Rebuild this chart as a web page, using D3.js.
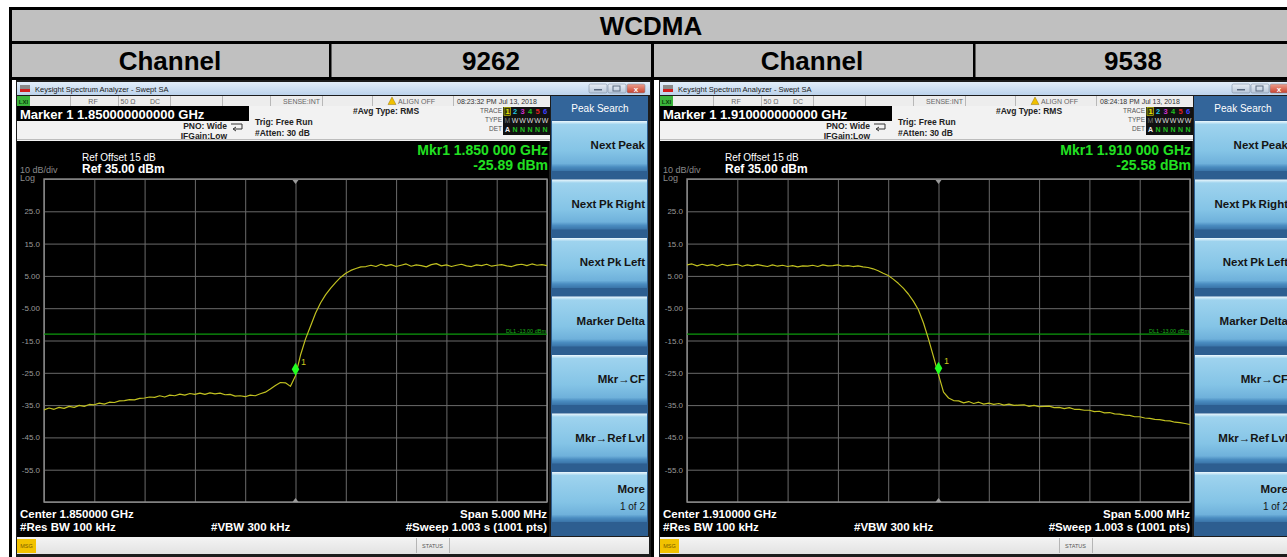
<!DOCTYPE html>
<html><head><meta charset="utf-8">
<script src="https://cdn.jsdelivr.net/npm/d3@7"></script>
<style>
body{margin:0;background:#fff;}
svg{display:block;font-family:"Liberation Sans",Arial,Helvetica,sans-serif;}
</style>
</head><body>
<svg id="c" width="1287" height="557"></svg>
<script>
// ---------------- data ----------------
const tableTitle = "WCDMA";
const channelLabel = "Channel";
const channels = ["9262", "9538"];
const centerFreqGHz = [1.85, 1.91];
const spanGHz = 0.005;
const markerDbm = [-25.89, -25.58];
const timestamps = ["08:23:32 PM Jul 13, 2018", "08:24:18 PM Jul 13, 2018"];
const refLevelDbm = 35;
const dbPerDiv = 10;
const displayLineDbm = -13;
const yTickValues = [25, 15, 5, -5, -15, -25, -35, -45, -55];
const yTickLabels = ["25.0", "15.0", "5.00", "-5.00", "-15.0", "-25.0", "-35.0", "-45.0", "-55.0"];
const menuItems = ["Next Peak", "Next Pk Right", "Next Pk Left", "Marker Delta", "Mkr\u2192CF", "Mkr\u2192Ref Lvl", "More"];
const traceTypeRow = ["M", "W", "W", "W", "W", "W"];
const detRow = ["A", "N", "N", "N", "N", "N"];

// trace values (dBm), 101 sweep points across the 5 MHz span
const trace9262 = [
 -36.5,-35.9,-36.3,-35.7,-36.0,-35.4,-35.7,-35.1,-35.4,-34.8,
 -34.9,-34.4,-34.7,-34.1,-34.2,-33.7,-33.6,-33.3,-33.4,-32.9,
 -32.8,-32.5,-32.6,-32.1,-32.5,-31.9,-32.1,-31.6,-31.9,-31.4,
 -31.7,-31.3,-31.7,-31.2,-31.5,-31.3,-31.8,-31.7,-32.2,-32.1,
 -32.4,-31.9,-32.1,-31.5,-31.0,-30.0,-28.9,-28.0,-28.1,-29.2,
 -25.89,-19.5,-14.5,-10.5,-6.5,-3.3,-0.8,1.2,3.0,4.6,
 5.8,6.7,7.3,7.8,7.9,8.3,7.9,8.6,8.1,8.5,
 7.9,8.3,8.7,8.0,8.4,8.2,7.8,8.5,8.8,8.1,
 8.4,7.9,8.3,8.6,8.1,7.9,8.4,8.2,8.6,8.0,
 8.3,8.5,8.1,7.9,8.4,8.6,8.2,8.7,8.3,8.5,8.2
];
const trace9538 = [
 8.4,8.7,8.1,8.6,8.2,8.5,8.0,8.6,8.2,8.4,
 8.6,8.0,8.4,8.1,8.5,8.2,7.9,8.4,8.0,8.3,
 7.9,8.2,7.8,8.1,8.0,8.3,7.9,8.4,8.1,8.2,
 8.4,8.0,8.2,7.9,8.1,7.8,7.6,7.2,6.6,5.8,
 5.1,4.0,2.7,1.2,-0.6,-2.8,-5.5,-9.5,-14.5,-20.0,
 -25.58,-31.0,-32.8,-33.6,-33.7,-34.3,-33.9,-34.5,-34.1,-34.7,
 -34.4,-34.8,-34.5,-35.0,-34.7,-35.1,-35.0,-34.9,-35.4,-35.1,
 -35.5,-35.4,-35.3,-35.8,-35.7,-36.1,-35.8,-36.3,-36.3,-36.6,
 -36.6,-37.0,-36.9,-37.4,-37.3,-37.7,-37.8,-38.1,-38.2,-38.6,
 -38.6,-39.0,-39.1,-39.4,-39.5,-39.8,-39.9,-40.3,-40.4,-40.7,-41.0
];
const traces = [trace9262, trace9538];

// ---------------- drawing ----------------
const svg = d3.select("#c");
const defs = svg.append("defs");
function grad(id, stops) {
  const lg = defs.append("linearGradient").attr("id", id).attr("x1", 0).attr("y1", 0).attr("x2", 0).attr("y2", 1);
  stops.forEach(s => lg.append("stop").attr("offset", s[0]).attr("stop-color", s[1]));
}
grad("titleG", [["0%", "#e3eefa"], ["100%", "#bcd3ec"]]);
grad("btnG", [["0%", "#eef8fd"], ["7%", "#9ed3ee"], ["60%", "#84c4e6"], ["85%", "#6fb1db"], ["92%", "#4a8cc0"], ["100%", "#3a74a8"]]);
grad("winG", [["0%", "#e9eff6"], ["100%", "#b6c6d9"]]);
grad("redG", [["0%", "#eca08f"], ["100%", "#c8412d"]]);
grad("statusG", [["0%", "#f4f4f4"], ["100%", "#e2e2e2"]]);
defs.append("clipPath").attr("id", "plotClip").append("rect")
  .attr("x", 44).attr("y", 178).attr("width", 504).attr("height", 325);

// outer table
const gray = "#c0c0c0";
svg.append("rect").attr("x", 10).attr("y", 9).attr("width", 1300).attr("height", 33).attr("fill", gray);
svg.append("rect").attr("x", 10).attr("y", 43).attr("width", 1300).attr("height", 35).attr("fill", gray);
[[7, 3], [41, 3], [77, 3]].forEach(([yy, h]) => {
  svg.append("rect").attr("x", 9).attr("y", yy).attr("width", 1300).attr("height", h).attr("fill", "#000");
});
svg.append("rect").attr("x", 9).attr("y", 7).attr("width", 3).attr("height", 550).attr("fill", "#000");
[329, 973].forEach(xx => svg.append("rect").attr("x", xx).attr("y", 42).attr("width", 2.5).attr("height", 36).attr("fill", "#000"));
svg.append("rect").attr("x", 651).attr("y", 42).attr("width", 3).attr("height", 515).attr("fill", "#000");

const hdr = svg.append("g").attr("font-weight", "bold").attr("font-size", 26).attr("text-anchor", "middle").attr("fill", "#000");
hdr.append("text").attr("x", 651).attr("y", 35).text(tableTitle);
hdr.append("text").attr("x", 170).attr("y", 70).text(channelLabel);
hdr.append("text").attr("x", 491).attr("y", 70).text(channels[0]);
hdr.append("text").attr("x", 812).attr("y", 70).text(channelLabel);
hdr.append("text").attr("x", 1133).attr("y", 70).text(channels[1]);

function drawScreen(idx, ox) {
  const g = svg.append("g").attr("transform", `translate(${ox},0)`);
  const cf = centerFreqGHz[idx];
  const x = d3.scaleLinear().domain([cf - spanGHz / 2, cf + spanGHz / 2]).range([44, 547]);
  const y = d3.scaleLinear().domain([refLevelDbm - 10 * dbPerDiv, refLevelDbm]).range([502, 179]);

  // frame
  g.append("rect").attr("x", 16).attr("y", 80).attr("width", 635).attr("height", 477).attr("fill", "#1c1c1c");
  // title bar
  g.append("rect").attr("x", 17).attr("y", 82).attr("width", 633).attr("height", 13).attr("fill", "url(#titleG)");
  g.append("rect").attr("x", 20).attr("y", 85).attr("width", 10).attr("height", 4).attr("fill", "#8a8a8a");
  g.append("rect").attr("x", 20).attr("y", 89).attr("width", 10).attr("height", 3).attr("fill", "#d02020");
  g.append("text").attr("x", 35).attr("y", 91.5).attr("font-size", 7.5).attr("fill", "#1a1a1a")
    .text("Keysight Spectrum Analyzer - Swept SA");
  [[589, "winG"], [608, "winG"], [627, "redG"]].forEach(([bx, f]) => {
    g.append("rect").attr("x", bx).attr("y", 84).attr("width", 18).attr("height", 9).attr("rx", 1.5)
      .attr("fill", `url(#${f})`).attr("stroke", "#7d8ea3").attr("stroke-width", 0.6);
  });
  g.append("rect").attr("x", 594).attr("y", 89).attr("width", 8).attr("height", 1.5).attr("fill", "#5a6a80");
  g.append("rect").attr("x", 613).attr("y", 86).attr("width", 7).attr("height", 5).attr("fill", "none").attr("stroke", "#5a6a80").attr("stroke-width", 1);
  g.append("text").attr("x", 636).attr("y", 91.5).attr("font-size", 8).attr("font-weight", "bold").attr("fill", "#fff").attr("text-anchor", "middle").text("x");

  // status strip
  g.append("rect").attr("x", 17).attr("y", 96).attr("width", 533).attr("height", 10).attr("fill", "#ededed");
  g.append("rect").attr("x", 17).attr("y", 96).attr("width", 13).attr("height", 10).attr("fill", "#3cb43c");
  g.append("text").attr("x", 23.5).attr("y", 104).attr("font-size", 6).attr("text-anchor", "middle").attr("fill", "#0a3a0a").attr("font-weight", "bold").text("LXI");
  [70, 118, 170, 222, 270, 322, 372, 453].forEach(sx => g.append("rect").attr("x", sx).attr("y", 96).attr("width", 1).attr("height", 10).attr("fill", "#b8b8b8"));
  const st = g.append("g").attr("font-size", 7).attr("fill", "#666");
  st.append("text").attr("x", 93).attr("y", 104).attr("text-anchor", "middle").text("RF");
  st.append("text").attr("x", 128).attr("y", 104).attr("text-anchor", "middle").text("50 \u03A9");
  st.append("text").attr("x", 155).attr("y", 104).attr("text-anchor", "middle").text("DC");
  st.append("text").attr("x", 320).attr("y", 104).attr("text-anchor", "end").text("SENSE:INT");
  g.append("path").attr("d", "M388,104.5 L392,97 L396,104.5 Z").attr("fill", "#f0c000").attr("stroke", "#806000").attr("stroke-width", 0.4);
  st.append("text").attr("x", 398).attr("y", 104).text("ALIGN OFF");
  st.append("text").attr("x", 457).attr("y", 104).attr("fill", "#333").text(timestamps[idx]);

  // marker header
  g.append("rect").attr("x", 17).attr("y", 106).attr("width", 533).attr("height", 35).attr("fill", "#f2f2f2");
  g.append("rect").attr("x", 17).attr("y", 139).attr("width", 533).attr("height", 1).attr("fill", "#bdbdbd");
  g.append("rect").attr("x", 17).attr("y", 106).attr("width", 232).attr("height", 15).attr("fill", "#000");
  g.append("text").attr("x", 20).attr("y", 118.5).attr("font-size", 13).attr("font-weight", "bold").attr("fill", "#fff")
    .text(`Marker 1 ${cf.toFixed(12)} GHz`);
  const hb = g.append("g").attr("font-size", 8.5).attr("font-weight", "bold").attr("fill", "#222");
  hb.append("text").attr("x", 227).attr("y", 129).attr("text-anchor", "end").text("PNO: Wide");
  hb.append("text").attr("x", 227).attr("y", 138.5).attr("text-anchor", "end").text("IFGain:Low");
  hb.append("text").attr("x", 255).attr("y", 125).text("Trig: Free Run");
  hb.append("text").attr("x", 255).attr("y", 136).text("#Atten: 30 dB");
  hb.append("text").attr("x", 353).attr("y", 114).text("#Avg Type: RMS");
  g.append("path").attr("d", "M231,124 h11 v5 h-8 M236,127 l-3,2 l3,2").attr("fill", "none").attr("stroke", "#333").attr("stroke-width", 1);
  const tl = g.append("g").attr("font-size", 6.5).attr("fill", "#555").attr("text-anchor", "end");
  tl.append("text").attr("x", 502).attr("y", 113).text("TRACE");
  tl.append("text").attr("x", 502).attr("y", 122).text("TYPE");
  tl.append("text").attr("x", 502).attr("y", 131).text("DET");
  g.append("rect").attr("x", 503).attr("y", 107).attr("width", 47).attr("height", 28).attr("fill", "#111");
  g.append("rect").attr("x", 504).attr("y", 107.5).attr("width", 6.5).attr("height", 8).attr("fill", "#3a3a10").attr("stroke", "#d8d800").attr("stroke-width", 0.6);
  const tc = ["#e8e800", "#20c8e0", "#d030d0", "#20c020", "#e02020", "#4040ff"];
  tc.forEach((c, i) => g.append("text").attr("x", 507.5 + i * 7.5).attr("y", 114).attr("font-size", 7.5).attr("font-weight", "bold")
    .attr("text-anchor", "middle").attr("fill", c).text(String(i + 1)));
  traceTypeRow.forEach((t, i) => g.append("text").attr("x", 507.5 + i * 7.5).attr("y", 123).attr("font-size", 7)
    .attr("text-anchor", "middle").attr("fill", i === 0 ? "#777" : "#ddd").text(t));
  detRow.forEach((t, i) => g.append("text").attr("x", 507.5 + i * 7.5).attr("y", 132).attr("font-size", 7).attr("font-weight", "bold")
    .attr("text-anchor", "middle").attr("fill", i === 0 ? "#eee" : "#20c020").text(t));

  // plot area
  g.append("rect").attr("x", 17).attr("y", 141).attr("width", 532).attr("height", 396).attr("fill", "#000");
  g.append("text").attr("x", 82).attr("y", 161).attr("font-size", 10).attr("fill", "#fff").text("Ref Offset 15 dB");
  g.append("text").attr("x", 82).attr("y", 173).attr("font-size", 12).attr("font-weight", "bold").attr("fill", "#fff")
    .text(`Ref ${refLevelDbm.toFixed(2)} dBm`);
  g.append("text").attr("x", 20).attr("y", 173).attr("font-size", 9).attr("fill", "#8a8a8a").text(`${dbPerDiv} dB/div`);
  g.append("text").attr("x", 20).attr("y", 180.5).attr("font-size", 9).attr("fill", "#8a8a8a").text("Log");
  const mk = g.append("g").attr("font-size", 14).attr("font-weight", "bold").attr("fill", "#22e022").attr("text-anchor", "end");
  mk.append("text").attr("x", 548).attr("y", 155).text(`Mkr1 ${cf.toFixed(3)} 000 GHz`);
  mk.append("text").attr("x", 548).attr("y", 170).text(`${markerDbm[idx].toFixed(2)} dBm`);

  // graticule via axes
  const gridY = d3.range(0, 11).map(k => refLevelDbm - k * dbPerDiv);
  const gridX = d3.range(0, 11).map(k => cf - spanGHz / 2 + k * spanGHz / 10);
  const gy = g.append("g").attr("transform", "translate(44,0)")
    .call(d3.axisLeft(y).tickValues(gridY).tickSize(-503).tickFormat(""));
  gy.select(".domain").remove();
  gy.selectAll("line").attr("stroke", "#6a6a6a").attr("stroke-width", 1);
  const gx = g.append("g").attr("transform", "translate(0,502)")
    .call(d3.axisBottom(x).tickValues(gridX).tickSize(-323).tickFormat(""));
  gx.select(".domain").remove();
  gx.selectAll("line").attr("stroke", "#6a6a6a").attr("stroke-width", 1);
  g.append("rect").attr("x", 44).attr("y", 179).attr("width", 503).attr("height", 323)
    .attr("fill", "none").attr("stroke", "#8c8c8c").attr("stroke-width", 1.4);
  const ya = g.append("g").attr("transform", "translate(44,0)")
    .call(d3.axisLeft(y).tickValues(yTickValues).tickFormat((d, i) => yTickLabels[i]).tickSize(0).tickPadding(4));
  ya.select(".domain").remove();
  ya.selectAll("text").attr("font-size", 8).attr("fill", "#9a9a9a").attr("font-family", "Liberation Sans, Arial, sans-serif");

  // center markers (small triangles)
  const xc = x(cf);
  g.append("path").attr("d", `M${xc - 3},180 L${xc + 3},180 L${xc},184 Z`).attr("fill", "#9a9a9a");
  g.append("path").attr("d", `M${xc - 3},502 L${xc + 3},502 L${xc},498 Z`).attr("fill", "#9a9a9a");

  // display line
  g.append("line").attr("x1", 44).attr("x2", 547).attr("y1", y(displayLineDbm)).attr("y2", y(displayLineDbm))
    .attr("stroke", "#0c9a0c").attr("stroke-width", 1.3);
  g.append("text").attr("x", 546).attr("y", y(displayLineDbm) - 1.5).attr("font-size", 5.5).attr("fill", "#1cb01c")
    .attr("text-anchor", "end").text(`DL1 ${displayLineDbm.toFixed(2)} dBm`);

  // trace
  const data = traces[idx];
  const freqs = data.map((_, i) => cf - spanGHz / 2 + i * spanGHz / (data.length - 1));
  const line = d3.line().x((d, i) => x(freqs[i])).y(d => y(d));
  g.append("path").attr("clip-path", "url(#plotClip)").datum(data).attr("d", line)
    .attr("fill", "none").attr("stroke", "#c0c020").attr("stroke-width", 1.2).attr("stroke-linejoin", "round");

  // marker diamond
  const mx = x(cf), my = y(markerDbm[idx]);
  g.append("path").attr("d", `M${mx},${my} L${mx + 3.8},${my - 6.5} L${mx},${my - 13} L${mx - 3.8},${my - 6.5} Z`).attr("fill", "#22ff22");
  g.append("text").attr("x", mx + 5.5).attr("y", my - 11).attr("font-size", 9).attr("fill", "#c8c81c").text("1");

  // bottom annotations
  const bt = g.append("g").attr("font-size", 11.5).attr("font-weight", "bold").attr("fill", "#fff");
  bt.append("text").attr("x", 20).attr("y", 518).text(`Center ${cf.toFixed(6)} GHz`);
  bt.append("text").attr("x", 20).attr("y", 531).text("#Res BW 100 kHz");
  bt.append("text").attr("x", 211).attr("y", 531).text("#VBW 300 kHz");
  bt.append("text").attr("x", 547).attr("y", 518).attr("text-anchor", "end").text(`Span ${(spanGHz * 1000).toFixed(3)} MHz`);
  bt.append("text").attr("x", 547).attr("y", 531).attr("text-anchor", "end").text("#Sweep  1.003 s (1001 pts)");

  // side menu
  g.append("rect").attr("x", 551).attr("y", 96).attr("width", 97).attr("height", 440).attr("fill", "#2d5e90");
  g.append("rect").attr("x", 551).attr("y", 96).attr("width", 97).attr("height", 24).attr("fill", "#33659a");
  g.append("text").attr("x", 600).attr("y", 112).attr("font-size", 10).attr("fill", "#fff").attr("text-anchor", "middle").text("Peak Search");
  menuItems.forEach((m, i) => {
    const by = 121 + i * 58.5;
    g.append("rect").attr("x", 552).attr("y", by).attr("width", 95).attr("height", 50).attr("fill", "url(#btnG)");
    g.append("text").attr("x", 645).attr("y", by + (i === 6 ? 21 : 28)).attr("font-size", 11.5).attr("font-weight", "bold")
      .attr("fill", "#151515").attr("text-anchor", "end").attr("word-spacing", -0.6).text(m);
  });
  g.append("text").attr("x", 645).attr("y", 121 + 6 * 58.5 + 38).attr("font-size", 10).attr("fill", "#151515")
    .attr("text-anchor", "end").text("1 of 2");

  // bottom status bar
  g.append("rect").attr("x", 17).attr("y", 537).attr("width", 632).attr("height", 17).attr("fill", "url(#statusG)");
  g.append("rect").attr("x", 17).attr("y", 539).attr("width", 19).attr("height", 14).attr("fill", "#f2c200");
  g.append("text").attr("x", 26.5).attr("y", 548).attr("font-size", 5.5).attr("text-anchor", "middle").attr("fill", "#7a5a00").text("MSG");
  [416, 449].forEach(sx => g.append("rect").attr("x", sx).attr("y", 538).attr("width", 1).attr("height", 15).attr("fill", "#b5b5b5"));
  g.append("text").attr("x", 432.5).attr("y", 548).attr("font-size", 5.5).attr("text-anchor", "middle").attr("fill", "#555").text("STATUS");
}

drawScreen(0, 0);
drawScreen(1, 643);
</script>
</body></html>
